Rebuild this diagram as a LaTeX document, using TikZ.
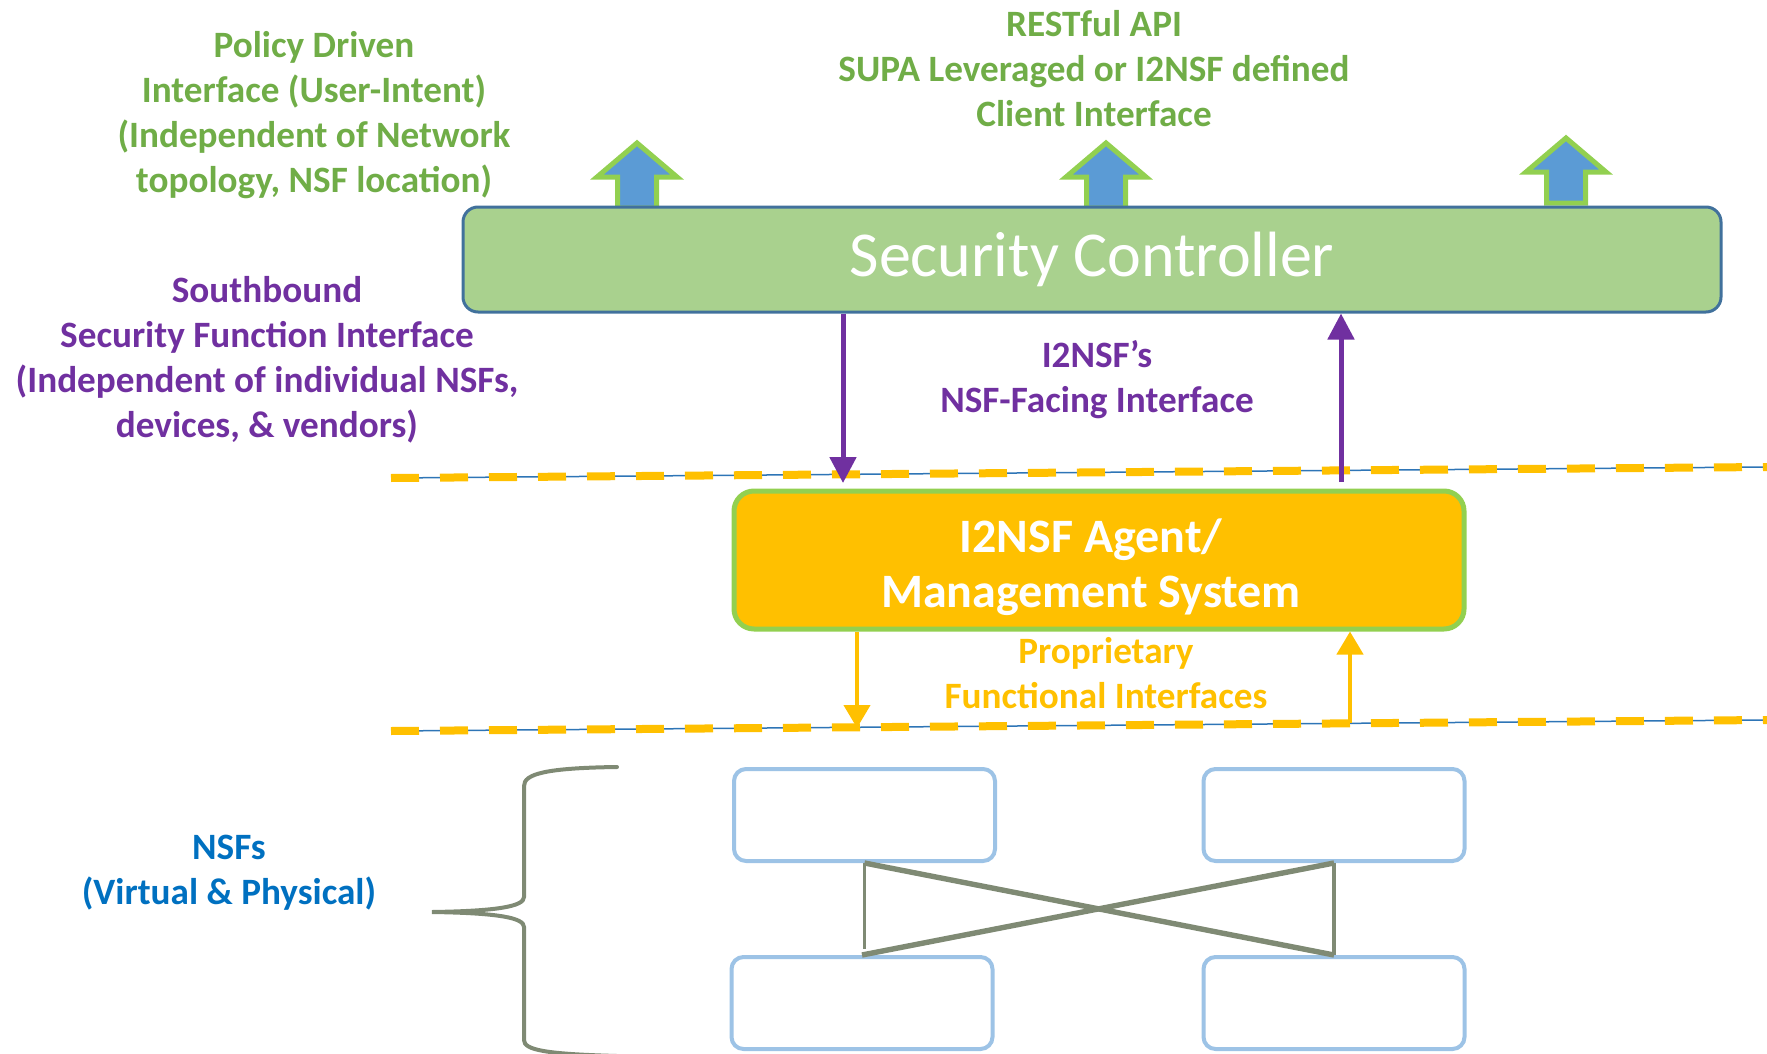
\documentclass[tikz,border=0pt]{standalone}
\usepackage{fontspec}
\setmainfont{Carlito}
\usetikzlibrary{arrows.meta}
\definecolor{tgreen}{HTML}{70AD47}
\definecolor{tpurple}{HTML}{7030A0}
\definecolor{torange}{HTML}{FFC000}
\definecolor{tblue}{HTML}{0070C0}
\definecolor{scfill}{HTML}{A9D18E}
\definecolor{scdraw}{HTML}{41719C}
\definecolor{lgreen}{HTML}{92D050}
\definecolor{abfill}{HTML}{5B9BD5}
\definecolor{nsfdraw}{HTML}{9DC3E6}
\definecolor{gline}{HTML}{7F8A74}
\definecolor{bline}{HTML}{2E75B6}
\begin{document}
\begin{tikzpicture}[x=0.5pt,y=-0.5pt,
  lbl/.style={font=\bfseries\fontsize{18.6}{22.5}\selectfont, align=center, inner sep=0pt},
  scbox/.style={draw=scdraw, fill=scfill, line width=1.5pt, rounded corners=7.5pt,
    minimum width=629pt, minimum height=52.5pt, text=white,
    font=\fontsize{32}{38}\selectfont},
  agbox/.style={draw=lgreen, fill=torange, line width=2.5pt, rounded corners=10pt,
    minimum width=365pt, minimum height=69pt},
  agtxt/.style={text=white, align=center, inner sep=0pt,
    font=\bfseries\fontsize{24}{27.5}\selectfont},
  nsfbox/.style={draw=nsfdraw, fill=white, line width=2pt, rounded corners=6pt,
    minimum width=130.5pt, minimum height=46pt},
  blockup/.pic={\draw[fill=abfill, draw=lgreen, line width=2.5pt, line join=miter]
    (-19.5,0) -- (-19.5,-31) -- (-40,-31) -- (0,-65) -- (40,-31) -- (19.5,-31) -- (19.5,0) -- cycle;},
  parrow/.style={draw=tpurple, line width=2.5pt, -{Triangle[length=13pt,width=13pt]}},
  oarrow/.style={draw=torange, line width=2.2pt, -{Triangle[length=11.5pt,width=13pt]}},
  thinline/.style={draw=bline, line width=0.75pt},
  dashline/.style={draw=torange, line width=4pt, dash pattern=on 14pt off 10.5pt},
  crossline/.style={draw=gline, line width=2.7pt},
  vline/.style={draw=gline, line width=1.6pt},
  bracepath/.style={draw=gline, line width=2pt, line cap=round}
]
\useasboundingbox (0,0) rectangle (1767,1054);

% dashed separator lines
\coordinate (l1a) at (391,478);
\coordinate (l1b) at (1767,467);
\coordinate (l2a) at (391,731);
\coordinate (l2b) at (1767,720);
\draw[thinline] (l1a) -- (l1b);
\draw[dashline] (l1a) -- (l1b);
\draw[thinline] (l2a) -- (l2b);
\draw[dashline] (l2a) -- (l2b);

% block arrows
\pic at (637,208) {blockup};
\pic at (1106,208) {blockup};
\pic at (1566,203) {blockup};

% boxes
\node[scbox] (sc) at (1092,259.5) {Security Controller};
\node[agbox] (ag) at (1099,560) {};
\node[agtxt] (agt) at (1091,567) {I2NSF Agent/\\Management System};

\node[nsfbox] (tl) at (864.5,815) {};
\node[nsfbox] (tr) at (1334,815) {};
\node[nsfbox] (bl) at (862,1003) {};
\node[nsfbox] (br) at (1334,1003) {};

% purple arrows
\coordinate (pd) at (843,483);
\coordinate (pu) at (1341,482);
\draw[parrow] (sc.south -| pd) -- (pd);
\draw[parrow] (pu) -- (sc.south -| pu);

% orange arrows
\coordinate (od) at (857,728);
\coordinate (ou) at (1350,723);
\draw[oarrow] (ag.south -| od) -- (od);
\draw[oarrow] (ou) -- (ag.south -| ou);

% NSF interconnections
\draw[crossline] (tl.south) -- (br.north);
\draw[crossline] (tr.south) -- (bl.north);
\draw[vline, shorten >=3pt] (tl.south) -- (bl.north -| tl.south);
\draw[vline] (tr.south) -- (br.north);

% brace
\draw[bracepath] (617,767) .. controls (545,768) and (524,774) .. (524,786)
  -- (524,897) .. controls (524,906) and (500,911) .. (432,912)
  .. controls (500,913) and (524,918) .. (524,927)
  -- (524,1040) .. controls (524,1050) and (545,1054) .. (617,1056);

% labels
\node[lbl, text=tgreen] (policy) at (314,115.5) {Policy Driven\\Interface (User-Intent)\\(Independent of Network\\topology, NSF location)};
\node[lbl, text=tgreen] (rest) at (1094,68.5) {RESTful API\\SUPA Leveraged or I2NSF defined\\Client Interface};
\node[lbl, text=tpurple] (south) at (267,360) {Southbound\\Security Function Interface\\(Independent of individual NSFs,\\devices, \& vendors)};
\node[lbl, text=tpurple] (facing) at (1097,380) {I2NSF’s\\NSF-Facing Interface};
\node[lbl, text=torange] (prop) at (1106,673) {Proprietary\\Functional Interfaces};
\node[lbl, text=tblue] (nsfs) at (229,873) {NSFs\\(Virtual \& Physical)};
\end{tikzpicture}
\end{document}
